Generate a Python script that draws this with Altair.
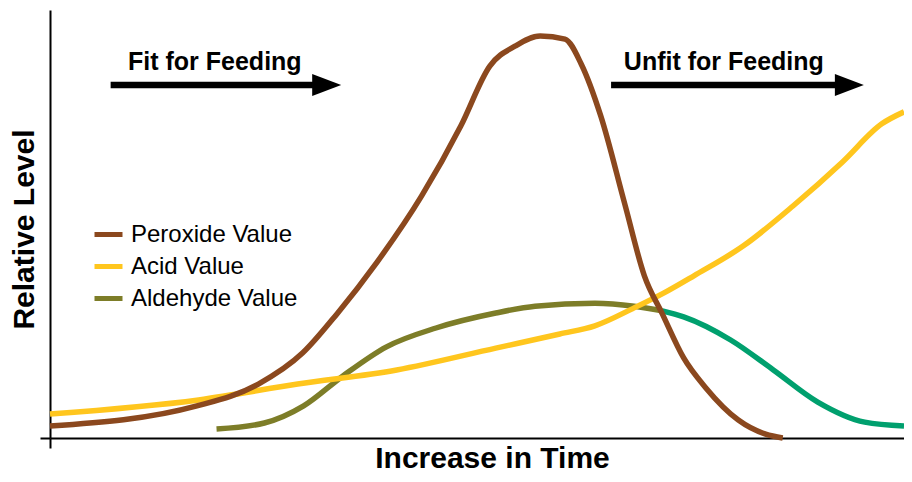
import altair as alt
import pandas as pd

# ---- data (time 0-100 along x, relative level 0-100 along y) ----
series_names = ["Peroxide Value", "Acid Value", "Aldehyde Value"]
series_colors = ["#8B481E", "#FFC61E", "#7D7D28"]
late_aldehyde_color = "#00A06E"

peroxide_t = [0, 17.2, 24.4, 29.6, 33.6, 38.3, 43.5, 48.1, 51.5, 54.5, 57.4, 60.3, 62.2, 64.5, 67.3, 69.6, 71.7, 74.2, 76.8, 80.6, 83.8, 85.8]
peroxide_v = [2.8, 7.5, 12.6, 19.9, 29.0, 41.1, 56.5, 72.9, 86.9, 91.6, 93.9, 93.2, 87.4, 75.2, 54.7, 37.9, 29.0, 18.7, 11.7, 4.2, 0.9, 0.0]

acid_t = [0, 17.4, 29.0, 40.6, 52.2, 59.7, 63.8, 68.4, 71.9, 75.4, 81.2, 87.0, 92.8, 97.4, 100]
acid_v = [5.6, 8.9, 12.6, 15.9, 21.0, 24.3, 26.2, 30.4, 33.9, 37.9, 44.9, 54.2, 64.5, 73.4, 76.2]

aldehyde_t = [19.5, 25.1, 29.7, 34.3, 39.4, 45.2, 52.2, 56.8, 63.8, 68.4, 71.7]
aldehyde_v = [2.1, 3.5, 7.5, 14.5, 21.3, 25.7, 29.2, 30.8, 31.5, 30.8, 29.7]

aldehyde_late_t = [71.7, 74.2, 79.7, 84.7, 89.9, 95.4, 100]
aldehyde_late_v = [29.7, 28.3, 22.9, 15.9, 8.4, 3.7, 2.8]

arrow_labels = ["Fit for Feeding", "Unfit for Feeding"]
arrow_start_t = [7.1, 65.7]
arrow_head_t = [32.4, 93.6]
arrow_level = [82.5, 82.5]
label_t = [19.3, 78.9]
label_level = [86.0, 86.0]

x_title = "Increase in Time"
y_title = "Relative Level"

# ---- tables ----
def series_df(name, t, v):
    return pd.DataFrame({"time": t, "level": v, "series": name})

df_per = series_df(series_names[0], peroxide_t, peroxide_v)
df_acid = series_df(series_names[1], acid_t, acid_v)
df_ald = series_df(series_names[2], aldehyde_t, aldehyde_v)
df_ald_late = series_df("late", aldehyde_late_t, aldehyde_late_v)
df_arrows = pd.DataFrame({
    "label": arrow_labels, "start": arrow_start_t, "head": arrow_head_t,
    "level": arrow_level, "lt": label_t, "ll": label_level,
})

x_scale = alt.Scale(domain=[0, 100], nice=False, zero=False)
y_scale = alt.Scale(domain=[0, 100], nice=False, zero=False)

x_axis = alt.Axis(
    title=x_title, values=[0], labels=False, grid=False,
    domainColor="black", domainWidth=2, tickColor="black", tickWidth=2, tickSize=10,
    titleFont="Liberation Sans", titleFontWeight="bold", titleFontSize=30, titleColor="black",
    titleX=442, titleY=29, titleBaseline="alphabetic", titleAlign="center", titleAngle=0,
)
y_axis = alt.Axis(
    title=y_title, values=[0], labels=False, grid=False,
    domainColor="black", domainWidth=2, tickColor="black", tickWidth=2, tickSize=10,
    titleFont="Liberation Sans", titleFontWeight="bold", titleFontSize=30, titleColor="black",
    titleX=-17, titleY=219, titleBaseline="alphabetic", titleAlign="center", titleAngle=270,
)

color = alt.Color(
    "series:N",
    scale=alt.Scale(domain=series_names, range=series_colors),
    legend=alt.Legend(
        title=None, orient="none", legendX=42, legendY=208,
        symbolType="stroke", symbolSize=784, symbolStrokeWidth=5,
        labelFont="Liberation Sans", labelFontSize=24, labelColor="black", labelLimit=400,
        labelOffset=6, rowPadding=3, padding=0, values=series_names,
    ),
)

def line_layer(df, col):
    return alt.Chart(df).mark_line(strokeWidth=5.5, strokeJoin="round", interpolate="monotone").encode(
        x=alt.X("time:Q", scale=x_scale, axis=x_axis),
        y=alt.Y("level:Q", scale=y_scale, axis=y_axis),
        color=col,
    )

ald = line_layer(df_ald, color)
ald_late = line_layer(df_ald_late, alt.value(late_aldehyde_color))
acid = line_layer(df_acid, color)
per = line_layer(df_per, color)

shafts = alt.Chart(df_arrows).mark_rule(strokeWidth=6.5, color="black").encode(
    x=alt.X("start:Q", scale=x_scale), x2="head:Q", y=alt.Y("level:Q", scale=y_scale)
)
heads = alt.Chart(df_arrows).mark_point(
    shape="M-1,-0.76L1,0L-1,0.76Z", filled=True, opacity=1, color="black", size=841, strokeWidth=0
).encode(x=alt.X("head:Q", scale=x_scale), y=alt.Y("level:Q", scale=y_scale))
labels = alt.Chart(df_arrows).mark_text(
    font="Liberation Sans", fontWeight="bold", fontSize=25, color="black",
    align="center", baseline="alphabetic",
).encode(x=alt.X("lt:Q", scale=x_scale), y=alt.Y("ll:Q", scale=y_scale), text="label:N")

chart = alt.layer(ald, ald_late, acid, per, shafts, heads, labels).properties(
    width=854, height=428,
    autosize=alt.AutoSizeParams(type="none"),
    padding={"left": 42, "top": 2, "right": 0, "bottom": 36},
    background="white",
).configure_view(stroke=None)

chart.save("out.html", embed_options={"renderer": "svg", "actions": False})
